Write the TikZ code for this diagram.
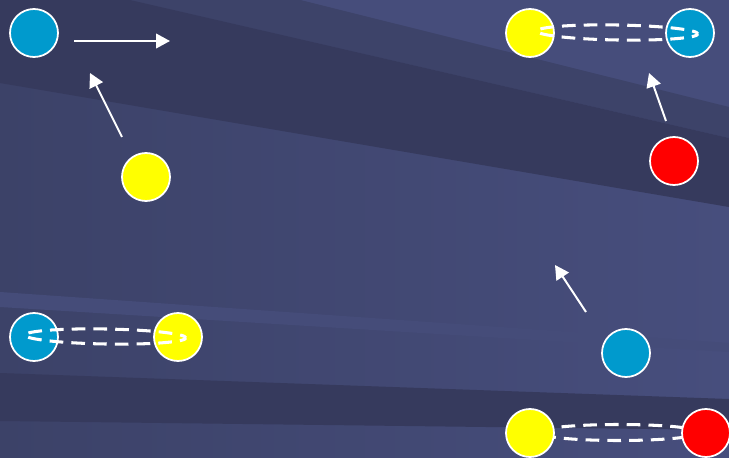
\documentclass[tikz,border=0pt]{standalone}
\usepackage{tikz}
\usetikzlibrary{positioning, arrows.meta}
\definecolor{bgdark}{HTML}{363A5D}
\definecolor{bgmid}{HTML}{3D4369}
\definecolor{bglight}{HTML}{464D7B}
\definecolor{bgstrip}{HTML}{454C79}
\definecolor{bgleft}{HTML}{3C4268}
\definecolor{bgright}{HTML}{474E7D}
\definecolor{ballblue}{HTML}{009ACD}
\definecolor{ballyellow}{HTML}{FFFF00}
\definecolor{ballred}{HTML}{FF0000}
\tikzset{
  ball/.style={circle, draw=white, line width=1.5pt, minimum size=1.44cm, inner sep=0pt},
  push/.style={white, line width=1.7pt, -{Triangle[length=4.2mm, width=4.4mm]}},
  bond/.style={white, line width=2.6pt, dash pattern=on 11.7pt off 6.87pt, dash phase=5.85pt}
}

\begin{document}
\begin{tikzpicture}[x=0.03cm, y=-0.03cm]
  \useasboundingbox (0,0) rectangle (729,458);

  % Background bands
  \begin{scope}
    \clip (0,0) rectangle (729,458);
    \shade[left color=bgleft, right color=bgright] (0,0) rectangle (729,458);
    \fill[bglight] (300,0) -- (729,0) -- (729,107) -- cycle;
    \fill[bgmid] (130,0) -- (300,0) -- (729,107) -- (729,138) -- cycle;
    \fill[bgdark] (0,0) -- (130,0) -- (729,138) -- (729,207) -- (0,83) -- cycle;
    \fill[bgstrip] (0,292) -- (729,343) -- (729,352) -- (0,307) -- cycle;
    \fill[bgdark] (0,373) -- (729,399) -- (729,430) -- (0,421) -- cycle;
  \end{scope}

  % Bottom pair (bond behind the balls)
  \coordinate (pM) at (619,432.5);
  \draw[bond] (pM) ellipse [x radius=81, y radius=8];
  \node[ball, fill=ballyellow] (yD) at (530,433) {};
  \node[ball, fill=ballred] (rB) at (706,433) {};

  % Top left: blue ball pushed, yellow ball approaching
  \node[ball, fill=ballblue] (bA) at (34,33) {};
  \node[ball, fill=ballyellow] (yA) at (146,177) {};
  \coordinate (mS) at (74,41);
  \coordinate (mE) at (170,41);
  \draw[push] (mS) -- (mE);
  \coordinate (aS) at (122,137);
  \coordinate (aE) at (90,73);
  \draw[push] (aS) -- (aE);

  % Top right: bonded pair, red ball approaching
  \node[ball, fill=ballyellow] (yB) at (530,33) {};
  \node[ball, fill=ballblue] (bB) at (690,33) {};
  \node[ball, fill=ballred] (rA) at (674,161) {};
  \coordinate (qM) at (617.5,32.5);
  \draw[bond, rotate around={-1:(qM)}] (qM) ellipse [x radius=80.5, y radius=7.5];
  \coordinate (cS) at (666,121);
  \coordinate (cE) at (649,73);
  \draw[push] (cS) -- (cE);

  % Bottom left: bonded pair
  \node[ball, fill=ballblue] (bC) at (34,337) {};
  \node[ball, fill=ballyellow] (yC) at (178,337) {};
  \coordinate (sM) at (105.5,336.5);
  \draw[bond, rotate around={-1:(sM)}] (sM) ellipse [x radius=80.5, y radius=7.5];

  % Middle right: blue ball approaching
  \node[ball, fill=ballblue] (bD) at (626,353) {};
  \coordinate (dS) at (586,312);
  \coordinate (dE) at (555,265);
  \draw[push] (dS) -- (dE);
\end{tikzpicture}
\end{document}
